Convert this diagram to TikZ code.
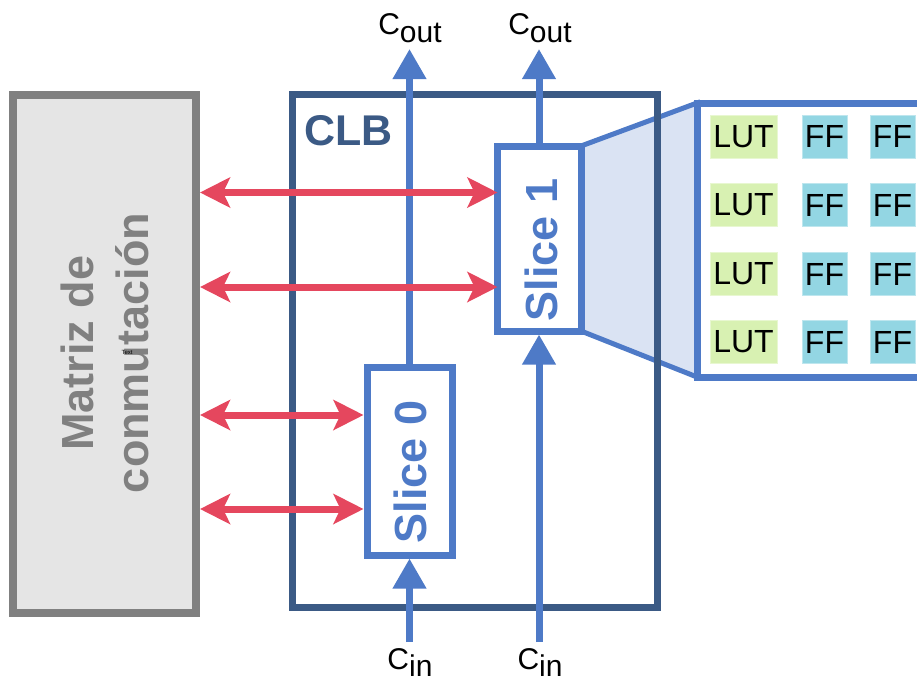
\documentclass[tikz,border=0pt]{standalone}
\usepackage{fontspec}
\setmainfont{Liberation Sans}
\usetikzlibrary{arrows.meta}
\definecolor{cblue}{HTML}{4E7AC7}
\definecolor{cdark}{HTML}{3B5A85}
\definecolor{cred}{HTML}{E5475E}
\definecolor{cgray}{HTML}{808080}
\definecolor{cgrayfill}{HTML}{E5E5E5}
\definecolor{ctrap}{HTML}{DAE3F3}
\definecolor{clut}{HTML}{D8F1B2}
\definecolor{cff}{HTML}{93D6E3}
\tikzset{
  slicebox/.style={draw=cblue, line width=7pt, fill=white, inner sep=0pt},
  bluewire/.style={draw=cblue, line width=7pt},
  bluearrow/.style={bluewire, -{Triangle[length=30pt 0, width=32pt 0]}},
  redarrow/.style={draw=cred, line width=7pt, {Stealth[length=30pt 0, width=30pt 0, inset=7pt 0]}-{Stealth[length=30pt 0, width=30pt 0, inset=7pt 0]}},
  slicetext/.style={rotate=90, text=cblue, font=\fontsize{45pt}{50pt}\selectfont\bfseries},
  clabel/.style={font=\fontsize{30pt}{34pt}\selectfont, anchor=base, inner sep=0pt},
  lutcell/.style={fill=clut, draw=clut!60!white, line width=1pt, minimum width=67pt, minimum height=43pt, inner sep=0pt, font=\fontsize{32pt}{36pt}\selectfont},
  ffcell/.style={fill=cff, draw=cff!60!white, line width=1pt, minimum width=45pt, minimum height=43pt, inner sep=0pt, font=\fontsize{32pt}{36pt}\selectfont},
}
\begin{document}
\begin{tikzpicture}[x=1pt,y=-1pt]
\useasboundingbox (0,0) rectangle (917,683);
\clip (0,0) rectangle (917,683);

% switching matrix
\node (matriz) [draw=cgray, fill=cgrayfill, line width=8pt, minimum width=183pt, minimum height=518pt, inner sep=0pt] at (104.5,354) {};
\node (mtext) [rotate=90, text=cgray, align=center, font=\fontsize{45pt}{55pt}\selectfont\bfseries] at (104.5,353) {Matriz de\\conmutación};
\node (tiny) [font=\fontsize{6pt}{7pt}\selectfont, inner sep=0pt] at (127,352) {Text};

% zoom trapezoid
\path[fill=ctrap, draw=cblue, line width=5pt, line join=miter] (581,146) -- (697,103) -- (697,377) -- (581,331) -- cycle;

% CLB
\node (clb) [draw=cdark, line width=7pt, minimum width=365pt, minimum height=513pt, inner sep=0pt] at (474.5,350.5) {};
\node (clbtext) [anchor=base west, text=cdark, font=\fontsize{43pt}{46pt}\selectfont\bfseries, inner sep=0pt] at (304,145) {CLB};

% slices
\node (slice0) [slicebox, minimum width=85pt, minimum height=188pt] at (409.5,461) {};
\node (slice1) [slicebox, minimum width=84pt, minimum height=185pt] at (539,238.5) {};
\node (s0text) [slicetext] at (410,472) {Slice 0};
\node (s1text) [slicetext] at (541,250) {Slice 1};

% carry wires
\coordinate (cout0) at (409.5,49);
\coordinate (cout1) at (539,49);
\coordinate (cin0) at (409.5,642);
\coordinate (cin1) at (539,642);
\draw[bluearrow] (slice0.north) -- (cout0);
\draw[bluearrow] (slice1.north) -- (cout1);
\draw[bluearrow] (cin0) -- (slice0.south);
\draw[bluearrow] (cin1) -- (slice1.south);

\node (lout0) [clabel] at (410,34) {C\raisebox{-8pt}{out}};
\node (lout1) [clabel] at (540,34) {C\raisebox{-8pt}{out}};
\node (lin0) [clabel] at (410,669) {C\raisebox{-7pt}{in}};
\node (lin1) [clabel] at (540,669) {C\raisebox{-7pt}{in}};

% red connections
\coordinate (r1) at (0,192.5);
\coordinate (r2) at (0,287);
\coordinate (r3) at (0,415);
\coordinate (r4) at (0,509);
\draw[redarrow] (matriz.east |- r1) -- ([xshift=4pt]slice1.west |- r1);
\draw[redarrow] (matriz.east |- r2) -- ([xshift=4pt]slice1.west |- r2);
\draw[redarrow] (matriz.east |- r3) -- (slice0.west |- r3);
\draw[redarrow] (matriz.east |- r4) -- (slice0.west |- r4);

% expanded slice panel
\node (panel) [draw=cblue, fill=white, line width=7pt, minimum width=263pt, minimum height=274pt, inner sep=0pt] at (828.5,240) {};
\foreach \r/\y in {1/136.5, 2/205, 3/274, 4/342} {
  \node (lut\r) [lutcell] at (743.5,\y) {LUT};
  \node (ffa\r) [ffcell] at (824.5,\y) {FF};
  \node (ffb\r) [ffcell] at (892.5,\y) {FF};
}
\end{tikzpicture}
\end{document}
